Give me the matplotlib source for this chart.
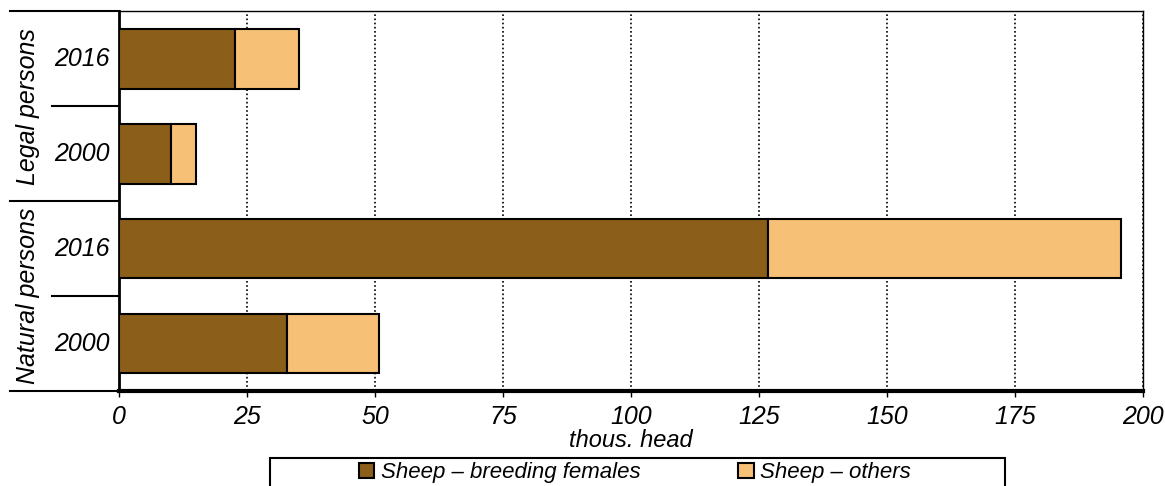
import matplotlib
matplotlib.use('Agg')
import matplotlib.pyplot as plt
from matplotlib.patches import Patch, Rectangle

plt.rcParams['font.family'] = ['Liberation Sans', 'DejaVu Sans']

# data (thousand head)
groups = ['Natural persons', 'Legal persons']
years = ['2000', '2016', '2000', '2016']   # bottom to top
breeding = [32.8, 126.8, 10.1, 22.6]
others = [18.0, 69.0, 5.0, 12.6]
series_names = ['Sheep \u2013 breeding females', 'Sheep \u2013 others']
xticks = [0, 25, 50, 75, 100, 125, 150, 175, 200]

c_breed = '#8b5e19'
c_other = '#f7c077'

fig = plt.figure(figsize=(11.65, 4.86), dpi=100)
ax = fig.add_axes([0.1021, 0.1955, 0.8789, 0.7815])

pos = list(range(len(years)))
ax.barh(pos, breeding, height=0.63, color=c_breed, edgecolor='k', linewidth=1.5, zorder=3)
ax.barh(pos, others, left=breeding, height=0.63, color=c_other, edgecolor='k', linewidth=1.5, zorder=3)

ax.set_xlim(0, 200)
ax.set_ylim(-0.5, 3.5)
ax.set_xticks(xticks)
ax.set_xticklabels([str(v) for v in xticks], fontsize=18, style='italic')
ax.tick_params(axis='x', direction='out', length=4, width=1, pad=6)
ax.set_yticks([])
ax.xaxis.grid(True, linestyle=(0, (1, 1.5)), color='k', linewidth=1.2, zorder=0)
ax.set_xlabel('thous. head', fontsize=17, style='italic', labelpad=0)

ax.spines['bottom'].set_linewidth(3)
ax.spines['left'].set_linewidth(2)
ax.spines['top'].set_linewidth(1)
ax.spines['right'].set_linewidth(1)

# year labels and group separators on the left
ytr = ax.get_yaxis_transform()
for p, y in zip(pos, years):
    ax.text(-0.036, p, y, transform=ytr, ha='center', va='center',
            fontsize=18, style='italic')
for b in [-0.5, 1.5, 3.5]:
    ax.plot([-0.106, 0], [b, b], transform=ytr, color='k', lw=1.5, clip_on=False)
for b in [0.5, 2.5]:
    ax.plot([-0.065, 0], [b, b], transform=ytr, color='k', lw=1.5, clip_on=False)
for i, g in enumerate(groups):
    ax.text(-0.089, 2 * i + 0.5, g, transform=ytr, rotation=90, ha='center',
            va='center', fontsize=18, style='italic')

# legend (frame drawn separately, runs off the bottom edge)
handles = [Patch(facecolor=c_breed, edgecolor='k', linewidth=1.5),
           Patch(facecolor=c_other, edgecolor='k', linewidth=1.5)]
leg = fig.legend(handles, series_names, loc='center', ncol=2,
                 bbox_to_anchor=(0.545, 0.027),
                 prop={'style': 'italic', 'size': 16},
                 handlelength=0.7, handleheight=0.7, handletextpad=0.3,
                 columnspacing=4.4, borderpad=0, borderaxespad=0,
                 frameon=False)
fig.patches.append(Rectangle((270 / 1165, -0.05), 735 / 1165, 0.05 + 28 / 486,
                             transform=fig.transFigure, fill=False,
                             edgecolor='k', linewidth=1.5))

fig.savefig('out.png', dpi=100)
